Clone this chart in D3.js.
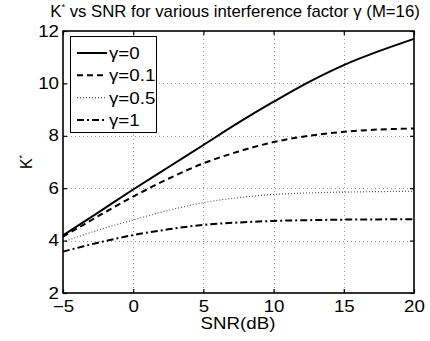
<!DOCTYPE html>
<html>
<head>
<meta charset="utf-8">
<script src="https://cdn.jsdelivr.net/npm/d3@7"></script>
<style>
  body{margin:0;background:#fff;}
  text{font-family:"Liberation Sans", Arial, sans-serif;}
</style>
</head>
<body>
<div class="chart"></div>
<script>
var snr = [-5, -2.5, 0, 2.5, 5, 7.5, 10, 12.5, 15, 17.5, 20];
var k_g0   = [4.2, 5.07, 5.95, 6.8, 7.65, 8.5, 9.3, 10.05, 10.7, 11.23, 11.7];
var k_g01  = [4.15, 4.93, 5.68, 6.36, 6.95, 7.4, 7.76, 8.0, 8.15, 8.24, 8.28];
var k_g05  = [3.95, 4.4, 4.79, 5.15, 5.45, 5.64, 5.76, 5.82, 5.85, 5.87, 5.88];
var k_g1   = [3.58, 3.92, 4.21, 4.43, 4.6, 4.69, 4.75, 4.78, 4.8, 4.81, 4.82];
var seriesNames = ["\u03b3=0", "\u03b3=0.1", "\u03b3=0.5", "\u03b3=1"];
var xTicks = [-5, 0, 5, 10, 15, 20];
var yTicks = [2, 4, 6, 8, 10, 12];

var SX = 1.17; // the original figure text is a bit stretched horizontally

function init(){
  var w = 430, h = 341;
  var left = 63, right = 414, top = 31, bottom = 293;

  var svg = d3.select(".chart").append("svg")
              .attr("width", w)
              .attr("height", h);

  var x = d3.scaleLinear().domain([-5, 20]).range([left, right]);
  var y = d3.scaleLinear().domain([2, 12]).range([bottom, top]);

  // grid
  var grid = svg.append("g")
                .attr("stroke", "#999")
                .attr("stroke-width", 1)
                .attr("stroke-dasharray", "1,3");
  grid.selectAll(".gx").data(xTicks.slice(1, -1)).join("line")
      .attr("x1", function(d){ return Math.round(x(d)) + 0.5; })
      .attr("x2", function(d){ return Math.round(x(d)) + 0.5; })
      .attr("y1", top).attr("y2", bottom);
  grid.selectAll(".gy").data(yTicks.slice(1, -1)).join("line")
      .attr("y1", function(d){ return Math.round(y(d)) + 0.5; })
      .attr("y2", function(d){ return Math.round(y(d)) + 0.5; })
      .attr("x1", left).attr("x2", right);

  // curves
  var styles = [
    {data: k_g0,  dash: null,      width: 2,   color: "#000"},
    {data: k_g01, dash: "6,4",     width: 2,   color: "#000"},
    {data: k_g05, dash: "1,2",     width: 1.2, color: "#555"},
    {data: k_g1,  dash: "7,3,2,3", width: 2,   color: "#000"}
  ];
  var line = d3.line()
               .x(function(d){ return x(d[0]); })
               .y(function(d){ return y(d[1]); })
               .curve(d3.curveCatmullRom);
  styles.forEach(function(s){
    svg.append("path")
       .datum(snr.map(function(v, i){ return [v, s.data[i]]; }))
       .attr("fill", "none")
       .attr("stroke", s.color)
       .attr("stroke-width", s.width)
       .attr("stroke-dasharray", s.dash)
       .attr("d", line);
  });

  // axes (box with inward ticks)
  var tick = 4;
  var xb = d3.axisBottom(x).tickValues(xTicks).tickSizeInner(-tick).tickSizeOuter(0)
             .tickPadding(8).tickFormat(function(d){ return d < 0 ? "\u2212" + (-d) : d; });
  var yl = d3.axisLeft(y).tickValues(yTicks).tickSizeInner(-tick).tickSizeOuter(0).tickPadding(4);
  var xt = d3.axisTop(x).tickValues(xTicks).tickSizeInner(-tick).tickSizeOuter(0).tickFormat("");
  var yr = d3.axisRight(y).tickValues(yTicks).tickSizeInner(-tick).tickSizeOuter(0).tickFormat("");

  var gx = svg.append("g").attr("transform", "translate(0," + bottom + ")").call(xb);
  var gy = svg.append("g").attr("transform", "translate(" + left + ",0)").call(yl);
  svg.append("g").attr("transform", "translate(0," + top + ")").call(xt);
  svg.append("g").attr("transform", "translate(" + right + ",0)").call(yr);

  svg.selectAll(".tick line").attr("stroke", "#000").attr("stroke-width", 1.2);
  svg.selectAll(".domain").remove();
  [gx, gy].forEach(function(g){
    g.selectAll("text")
     .attr("fill", "#000")
     .style("font-size", "16px")
     .attr("x", function(){ return (+d3.select(this).attr("x") || 0) / SX; })
     .attr("transform", "scale(" + SX + ",1)");
  });

  svg.append("rect")
     .attr("x", left).attr("y", top)
     .attr("width", right - left).attr("height", bottom - top)
     .attr("fill", "none").attr("stroke", "#000").attr("stroke-width", 1.6);

  // legend
  var lg = svg.append("g");
  lg.append("rect")
    .attr("x", 70.5).attr("y", 36.5).attr("width", 86).attr("height", 96)
    .attr("fill", "#fff").attr("stroke", "#000").attr("stroke-width", 1);
  var row = d3.scaleLinear().domain([0, 3]).range([53, 120]);
  styles.forEach(function(s, i){
    lg.append("line")
      .attr("x1", 77).attr("x2", 107)
      .attr("y1", row(i)).attr("y2", row(i))
      .attr("stroke", s.color)
      .attr("stroke-width", s.width)
      .attr("stroke-dasharray", s.dash);
    lg.append("text")
      .attr("transform", "translate(109," + (row(i) + 6) + ") scale(" + SX + ",1)")
      .style("font-size", "16px")
      .text(seriesNames[i]);
  });

  // title, squeezed/stretched to span the same width as the original
  var title = svg.append("text")
     .attr("text-anchor", "middle")
     .style("font-size", "16px");
  title.append("tspan").text("K");
  title.append("tspan").attr("dy", -7).style("font-size", "9px").text("*");
  title.append("tspan").attr("dy", 7).text(" vs SNR for various interference factor \u03b3 (M=16)");
  var tw = title.node().getComputedTextLength();
  title.attr("transform", "translate(235,17) scale(" + (370 / tw) + ",1)");

  svg.append("text")
     .attr("transform", "translate(238,329) scale(" + SX + ",1)")
     .attr("text-anchor", "middle")
     .style("font-size", "16px")
     .text("SNR(dB)");

  var ylab = svg.append("text")
     .attr("transform", "translate(32,162) rotate(-90)")
     .attr("text-anchor", "middle")
     .style("font-size", "16px");
  ylab.append("tspan").text("K");
  ylab.append("tspan").attr("dy", -7).style("font-size", "9px").text("*");
}

window.onload = init;
</script>
</body>
</html>
